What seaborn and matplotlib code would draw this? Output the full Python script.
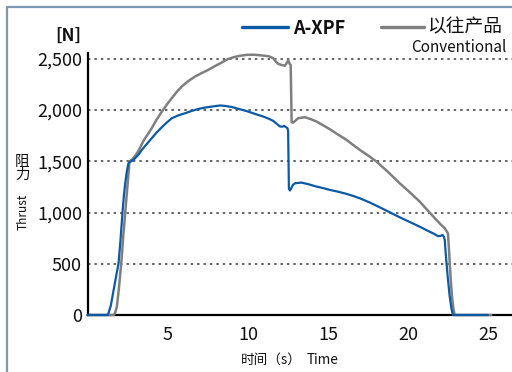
import matplotlib
matplotlib.use("Agg")
import matplotlib.pyplot as plt
import numpy as np
import pandas as pd
import seaborn as sns
from matplotlib.lines import Line2D

# ---- data ----
series_names = ["A-XPF", "以往产品"]

axpf_t = [0.0, 1.27, 1.45, 1.6, 1.75, 1.93, 2.05, 2.18, 2.27, 2.35, 2.45,
          2.55, 2.65, 2.72, 2.85, 2.97, 3.2, 3.38, 3.7, 4.0, 4.3, 4.63, 4.95,
          5.25, 5.65, 6.08, 6.5, 6.91, 7.3, 7.74, 8.26, 8.6, 8.99, 9.45, 9.92,
          10.45, 10.95, 11.3, 11.57, 11.8, 11.99, 12.15, 12.24, 12.35, 12.45,
          12.50, 12.55, 12.62, 12.8, 12.93, 13.34, 13.8, 14.27, 14.7, 15.1,
          15.6, 16.14, 16.55, 16.97, 17.6, 18.21, 18.8, 19.45, 20.1, 20.7,
          21.1, 21.53, 21.84, 22.0, 22.12, 22.2, 22.26, 22.31, 22.37, 22.47,
          22.57, 22.68, 22.78, 24.95]
axpf_v = [0, 0, 90, 220, 350, 500, 720, 1000, 1170, 1286, 1400,
          1481, 1495, 1500, 1515, 1530, 1570, 1611, 1670, 1725, 1780, 1833, 1880,
          1920, 1948, 1969, 1992, 2011, 2024, 2034, 2045, 2040, 2030, 2010, 1990,
          1962, 1937, 1915, 1895, 1865, 1840, 1838, 1846, 1835, 1825,
          1800, 1230, 1215, 1270, 1286, 1292, 1275, 1253, 1238, 1221,
          1204, 1182, 1162, 1139, 1097, 1051, 1005, 954, 906, 862,
          830, 797, 770, 772, 781, 765, 732, 620, 505, 330,
          179, 60, 0, 0]

conv_t = [0.0, 1.62, 1.72, 1.83, 1.95, 2.1, 2.22, 2.35, 2.5, 2.62, 2.8, 3.0,
          3.17, 3.49, 4.0, 4.3, 4.63, 4.95, 5.25, 5.55, 5.87, 6.3, 6.7, 7.1,
          7.53, 7.95, 8.36, 8.7, 9.08, 9.5, 9.92, 10.4, 10.95, 11.3, 11.57,
          11.75, 11.89, 12.1, 12.3, 12.45, 12.51, 12.6, 12.66, 12.72, 12.82,
          13.13, 13.55, 13.9, 14.27, 14.7, 15.1, 15.6, 16.14, 16.55, 16.97,
          17.5, 18.01, 18.7, 19.45, 20.1, 20.7, 21.2, 21.74, 22.0, 22.26,
          22.46, 22.52, 22.57, 22.64, 22.71, 22.8, 22.88, 25.16]
conv_v = [0, 0, 20, 81, 250, 500, 750, 1000, 1280, 1500, 1520, 1560,
          1600, 1700, 1823, 1905, 1985, 2055, 2116, 2175, 2230, 2285, 2327, 2360,
          2393, 2430, 2464, 2495, 2515, 2530, 2539, 2540, 2532, 2525, 2507,
          2470, 2451, 2440, 2432, 2470, 2485, 2450, 2440, 1880, 1878,
          1921, 1930, 1912, 1888, 1850, 1813, 1762, 1709, 1660, 1611,
          1555, 1497, 1400, 1286, 1195, 1107, 1020, 928, 885, 846,
          797, 650, 505, 330, 179, 60, 0, 0]

x_ticks = [5, 10, 15, 20, 25]
y_ticks = [0, 500, 1000, 1500, 2000, 2500]
y_tick_labels = ["0", "500", "1,000", "1,500", "2,000", "2,500"]

colors = {"A-XPF": "#0b5aa6", "以往产品": "#7f7f7f"}

df = pd.concat([
    pd.DataFrame({"t": conv_t, "v": conv_v, "series": series_names[1]}),
    pd.DataFrame({"t": axpf_t, "v": axpf_v, "series": series_names[0]}),
], ignore_index=True)

# ---- style ----
sns.set_theme(style="white")
plt.rcParams["font.family"] = ["Noto Sans CJK SC", "DejaVu Sans"]

W, H = 512, 372
fig = plt.figure(figsize=(W / 100, H / 100), dpi=100)
fig.patch.set_facecolor("white")

def fx(px):
    return px / W

def fy(py):
    return 1 - py / H

ax = fig.add_axes([fx(87.5), fy(315), 1 - fx(87.5), (315 - 52.7) / H])

sns.lineplot(data=df, x="t", y="v", hue="series",
             hue_order=[series_names[1], series_names[0]],
             palette=colors, estimator=None, sort=False,
             legend=False, ax=ax, linewidth=1.6)
for ln in ax.lines:
    ln.set_clip_on(False)
    ln.set_zorder(3)
    ln.set_solid_joinstyle("round")
    if ln.get_color() == colors["以往产品"]:
        ln.set_linewidth(1.8)

ax.set_xlim(0, 26.45)
ax.set_ylim(0, 2560)

for y in y_ticks[1:]:
    ax.axhline(y, color="#3a3a3a", lw=1.1, linestyle=(0, (1.6, 2.6)), zorder=0)

for s in ["top", "right"]:
    ax.spines[s].set_visible(False)
for s in ["left", "bottom"]:
    ax.spines[s].set_color("black")
    ax.spines[s].set_linewidth(1.6)
    ax.spines[s].set_zorder(2)

ax.set_xticks(x_ticks)
ax.set_xticklabels([str(v) for v in x_ticks])
ax.set_yticks(y_ticks)
ax.set_yticklabels(y_tick_labels)
ax.tick_params(axis="x", direction="in", length=6.5, width=1.3, color="black",
               labelsize=13, pad=8, labelcolor="#111111")
ax.tick_params(axis="y", length=0, labelsize=13, pad=4, labelcolor="#111111")
ax.set_xlabel("")
ax.set_ylabel("")

# ---- frame around figure ----
frame_col = "#7d98b3"
fig.add_artist(Line2D([fx(7), fx(7)], [0, fy(7)], transform=fig.transFigure,
                      color=frame_col, lw=1.6))
fig.add_artist(Line2D([fx(7), 1], [fy(7), fy(7)], transform=fig.transFigure,
                      color=frame_col, lw=1.6))

# ---- labels ----
fig.text(fx(68.5), fy(35.5), "[N]", ha="center", va="center",
         fontsize=12.5, fontweight="bold", color="#111111")
fig.text(fx(22.5), fy(162), "阻", ha="center", va="center", fontsize=10.5,
         color="#111111")
fig.text(fx(22.5), fy(175), "力", ha="center", va="center", fontsize=10.5,
         color="#111111")
fig.text(fx(23), fy(212), "Thrust", ha="center", va="center", fontsize=8.5,
         rotation=90, color="#111111")

fig.text(fx(302), fy(360), "时间（s）", ha="right", va="center", fontsize=9.8,
         color="#111111")
fig.text(fx(307), fy(360), "Time", ha="left", va="center", fontsize=9.8,
         color="#111111")

# ---- legend (manual) ----
fig.add_artist(Line2D([fx(242), fx(288)], [fy(27), fy(27)],
                      transform=fig.transFigure, color=colors["A-XPF"], lw=2.4))
fig.text(fx(293), fy(28), "A-XPF", ha="left", va="center", fontsize=13,
         fontweight="bold", color="#111111")
fig.add_artist(Line2D([fx(381), fx(424)], [fy(27), fy(27)],
                      transform=fig.transFigure, color=colors["以往产品"], lw=2.4))
fig.text(fx(427), fy(27), "以往产品", ha="left", va="center", fontsize=13.5,
         color="#111111")
fig.text(fx(411), fy(47), "Conventional", ha="left", va="center",
         fontsize=11, color="#111111")

fig.savefig("out.png", dpi=100, facecolor="white")
